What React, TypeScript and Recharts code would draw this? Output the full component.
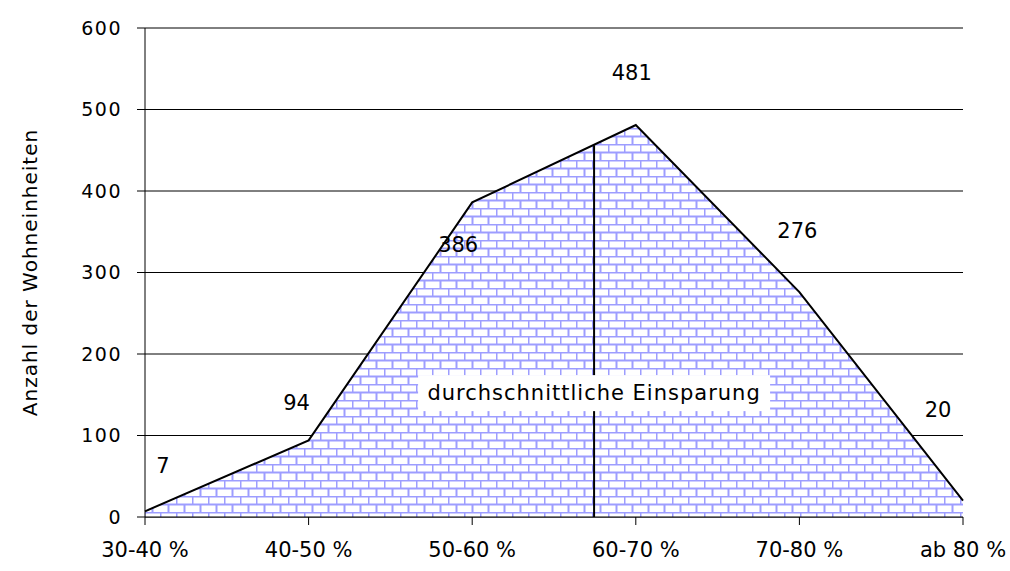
import React from 'react';
import { AreaChart, Area, XAxis, YAxis, CartesianGrid, ReferenceLine, ReferenceDot, LabelList } from 'recharts';

const categories = ['30-40 %', '40-50 %', '50-60 %', '60-70 %', '70-80 %', 'ab 80 %'];
const counts = [7, 94, 386, 481, 276, 20];
const yTicks = [0, 100, 200, 300, 400, 500, 600];
// average saving, as a position on the category axis
const averagePos = 2.745;
const averageTop = 456;
const averageText = 'durchschnittliche Einsparung';

// hand placement of the value labels (dx, dy from the point), as in the original
const labelOffsets = [
  [18, -45],
  [-12, -37],
  [-14, 43],
  [-4, -52],
  [-2, -61],
  [-25, -91],
];

const data = counts.map((v, i) => ({ i, v }));

const FONT = '"DejaVu Sans", sans-serif';

const ValueLabel = (props: any) => {
  const { x, y, value, index } = props;
  const [dx, dy] = labelOffsets[index] || [0, -20];
  return (
    <text x={x + dx} y={y + dy} textAnchor="middle" dominantBaseline="central"
      fontFamily={FONT} fontSize={21} fill="#000">
      {value}
    </text>
  );
};

const AverageBox = (props: any) => {
  const { cx, cy } = props;
  const w = 352;
  const h = 36;
  return (
    <g>
      <rect x={cx - w / 2} y={cy - h / 2} width={w} height={h} fill="#fff" />
      <text x={cx} y={cy} textAnchor="middle" dominantBaseline="central"
        fontFamily={FONT} fontSize={21} letterSpacing={1} fill="#000">
        {averageText}
      </text>
    </g>
  );
};

export default function App() {
  return (
    <div style={{ position: 'absolute', left: 0, top: 0, background: '#fff' }}>
      <AreaChart width={1010} height={571} data={data}
        margin={{ top: 28, right: 47, bottom: 24, left: 55 }}>
        <defs>
          <pattern id="brick" width={16} height={16} patternUnits="userSpaceOnUse">
            <rect x={0} y={0} width={16} height={16} fill="#fff" />
            <line x1={0} y1={0.5} x2={16} y2={0.5} stroke="#9d9dff" strokeWidth={2} />
            <line x1={0} y1={8.5} x2={16} y2={8.5} stroke="#9d9dff" strokeWidth={2} />
            <line x1={0.5} y1={0} x2={0.5} y2={8} stroke="#9d9dff" strokeWidth={2} />
            <line x1={8.5} y1={8} x2={8.5} y2={16} stroke="#9d9dff" strokeWidth={2} />
          </pattern>
        </defs>
        <CartesianGrid vertical={false} stroke="#000" strokeWidth={1} />
        <XAxis type="number" dataKey="i" domain={[0, 5]} ticks={[0, 1, 2, 3, 4, 5]}
          tickFormatter={(v: number) => categories[v]} interval={0} height={30}
          axisLine={{ stroke: '#000' }} tickLine={{ stroke: '#000' }} tickSize={8} tickMargin={17}
          fontSize={21} fontFamily={FONT}
          tick={{ fill: '#000', fontFamily: FONT, fontSize: 21 }} />
        <YAxis domain={[0, 600]} ticks={yTicks} width={90}
          axisLine={{ stroke: '#000' }} tickLine={{ stroke: '#000' }} tickSize={8} tickMargin={15}
          fontSize={19} fontFamily={FONT}
          tick={{ fill: '#000', fontFamily: FONT, fontSize: 19, letterSpacing: 1.5 }}
          label={{ value: 'Anzahl der Wohneinheiten', angle: -90, position: 'insideLeft', offset: 0,
            dx: -25, style: { textAnchor: 'middle', fill: '#000', fontFamily: FONT, fontSize: 20, letterSpacing: 1 } }} />
        <Area type="linear" dataKey="v" stroke="#000" strokeWidth={2} fill="url(#brick)" fillOpacity={1}
          dot={false} activeDot={false} isAnimationActive={false}>
          <LabelList dataKey="v" content={ValueLabel} />
        </Area>
        <ReferenceLine segment={[{ x: averagePos, y: 0 }, { x: averagePos, y: averageTop }]}
          stroke="#000" strokeWidth={2} />
        <ReferenceDot x={averagePos} y={152} r={0} shape={AverageBox} />
      </AreaChart>
    </div>
  );
}
